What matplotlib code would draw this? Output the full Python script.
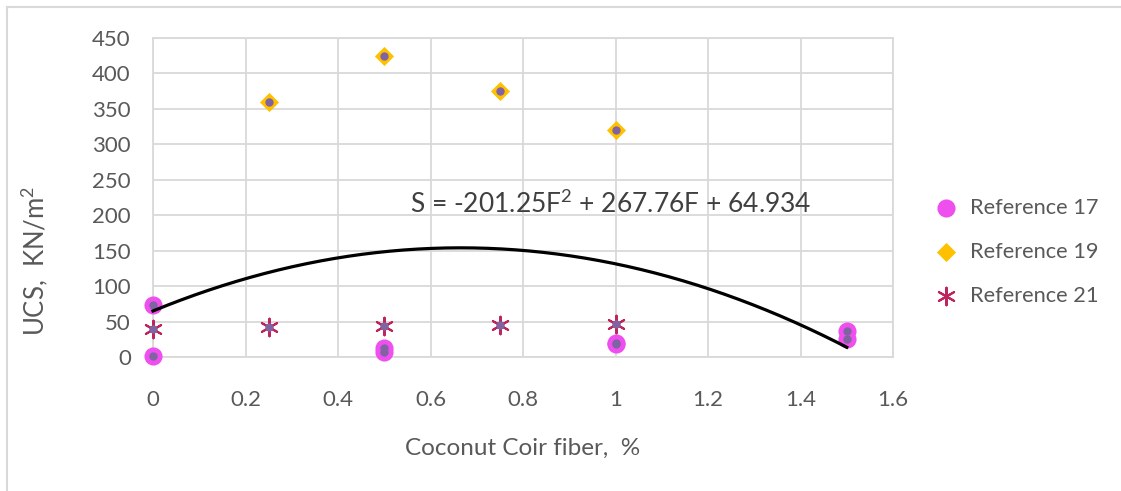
import numpy as np
import matplotlib.pyplot as plt
from matplotlib.lines import Line2D

plt.rcParams['font.family'] = ['Lato', 'DejaVu Sans']
plt.rcParams['mathtext.fontset'] = 'custom'
plt.rcParams['mathtext.rm'] = 'Lato'
plt.rcParams['mathtext.it'] = 'Lato'

# fibre content (%) and UCS (kN/m2) for each reference
ref17_x = [0, 0, 0.5, 0.5, 1.0, 1.0, 1.5, 1.5]
ref17_y = [74, 1, 13, 7, 18, 20, 37, 26]
ref19_x = [0.25, 0.5, 0.75, 1.0]
ref19_y = [360, 425, 375, 320]
ref21_x = [0, 0.25, 0.5, 0.75, 1.0]
ref21_y = [40, 43, 44, 45, 46]

# quadratic trend fitted over all points
coef = [-201.25, 267.76, 64.934]
eq_label = 'S = -201.25F$^\\mathrm{2}$ + 267.76F + 64.934'

x_ticks = [0, 0.2, 0.4, 0.6, 0.8, 1, 1.2, 1.4, 1.6]
y_ticks = [0, 50, 100, 150, 200, 250, 300, 350, 400, 450]

fig = plt.figure(figsize=(11.21, 4.91), dpi=100)
ax = fig.add_axes([153/1121, 1-357/491, (893-153)/1121, (357-38)/491])

txt = '#595959'
grid = '#D9D9D9'

ax.scatter(ref17_x, ref17_y, s=170, color='#EE4FEE', zorder=3, label='Reference 17',
           linewidths=0, clip_on=False)
ax.scatter(ref19_x, ref19_y, s=95, marker='D', color='#FFC000', zorder=3, label='Reference 19',
           linewidths=0, clip_on=False)
ax.scatter(ref21_x, ref21_y, s=160, marker=(6, 2, 0), color='#C0245C', zorder=3, linewidths=1.5,
           label='Reference 21', clip_on=False)

# combined series (small purple dots) used for the trendline
all_x = ref17_x + ref19_x + ref21_x
all_y = ref17_y + ref19_y + ref21_y
ax.scatter(all_x, all_y, s=36, color='#8064A2', zorder=4, linewidths=0, clip_on=False)

fx = np.linspace(0, 1.5, 200)
ax.plot(fx, np.polyval(coef, fx), color='black', lw=2.3, zorder=5, clip_on=False)
ax.text(0.556, 216, eq_label, fontsize=19, color='#404040', ha='left', va='center')

ax.set_xlim(0, 1.6)
ax.set_ylim(0, 450)
ax.set_xticks(x_ticks)
ax.set_xticklabels([f'{t:g}' for t in x_ticks])
ax.set_yticks(y_ticks)
ax.grid(True, color=grid, lw=1.3)
ax.set_axisbelow(True)
for s in ax.spines.values():
    s.set_color(grid)
    s.set_linewidth(1.3)
ax.tick_params(length=0, labelsize=16, colors=txt)
ax.tick_params(axis='x', pad=24)
ax.tick_params(axis='y', pad=16)

ax.set_xlabel('Coconut Coir fiber,  %', fontsize=17.5, color=txt, labelpad=20)
ax.set_ylabel('UCS,  KN/m$^\\mathrm{2}$', fontsize=18.5, color=txt)
ax.yaxis.set_label_coords(-0.138, 0.30)

leg = ax.legend(loc='center left', bbox_to_anchor=(1.057, 0.33), frameon=False,
                fontsize=15.7, labelspacing=1.1, handlelength=1.0, handletextpad=0.6,
                borderpad=0, borderaxespad=0, markerscale=1.0)
for t in leg.get_texts():
    t.set_color(txt)

# chart area border
fig.add_artist(Line2D([7/1121, 7/1121], [0, 1-7/491], color=grid, lw=1.5))
fig.add_artist(Line2D([7/1121, 1], [1-7/491, 1-7/491], color=grid, lw=1.5))

fig.savefig('out.png', dpi=100)
